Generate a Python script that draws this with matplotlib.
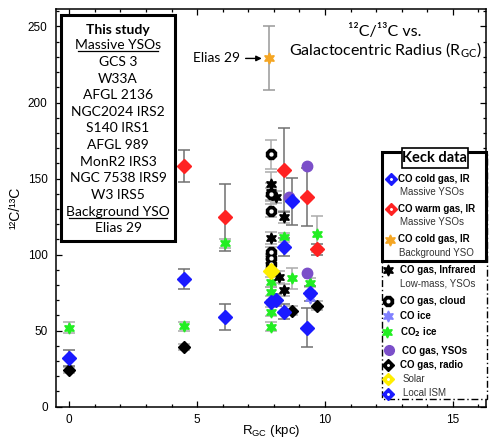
import matplotlib
matplotlib.use("Agg")
import matplotlib.pyplot as plt
from matplotlib.patches import Rectangle
from matplotlib.ticker import MultipleLocator

plt.rcParams['mathtext.fontset'] = 'custom'
plt.rcParams['mathtext.rm'] = 'Lato'
plt.rcParams['mathtext.sf'] = 'Liberation Sans'

# ---- data: galactocentric radius (kpc), 12C/13C ratio, 1-sigma error ----
# Keck, CO cold gas, IR (massive YSOs)
cold_r = [0.0, 4.5, 6.1, 8.1, 8.4, 8.4, 8.7, 9.3, 9.4]
cold_v = [32, 84, 59, 70, 105, 62.5, 135, 52, 74.5]
cold_e = [5, 6.5, 8.5, 4, 6, 5, 15.5, 13, 5]
# Keck, CO warm gas, IR (massive YSOs)
warm_r = [4.5, 6.1, 8.4, 9.3, 9.7]
warm_v = [158, 124.5, 155.5, 138, 103.5]
warm_e = [10.5, 22, 27.5, 19, 3.5]
# Keck, CO cold gas, IR (background YSO, Elias 29)
bg_r = [7.8]
bg_v = [229]
bg_e = [21]
# literature
lowmass_r = [7.9, 8.1, 8.4, 7.9, 8.2, 8.4, 7.9]
lowmass_v = [146.5, 138, 125, 111, 85.5, 77, 141]
lowmass_e = [8, 4, 4, 4, 4, 4, 6]
cloud_r = [7.9, 7.9, 7.9, 7.9, 7.9, 7.9]
cloud_v = [166, 140, 129, 102, 97.5, 94]
cloud_e = [9.5, 4, 4, 3, 3, 3]
coice_r = [7.9, 9.4, 9.4]
coice_v = [69, 71.5, 75]
co2_r = [0.0, 4.5, 6.1, 7.9, 7.9, 7.9, 7.9, 8.4, 8.7, 9.4, 9.7]
co2_v = [52, 53, 107.5, 82, 75.5, 62.5, 52.5, 111.5, 84.5, 81.5, 113.5]
co2_e = [3.5, 3, 3, 3, 3, 3, 3, 3, 7, 3, 12]
ysos_r = [9.3, 8.6, 9.3]
ysos_v = [158.5, 138, 88]
radio_r = [0.0, 4.5, 8.7, 9.7]
radio_v = [24, 39.5, 63, 66.5]
radio_e = [2, 2, 3, 3]
solar_r = [7.9]
solar_v = [89]
ism_r = [7.9]
ism_v = [69]

this_study = ['GCS 3', 'W33A', 'AFGL 2136', 'NGC2024 IRS2', 'S140 IRS1',
              'AFGL 989', 'MonR2 IRS3', 'NGC 7538 IRS9', 'W3 IRS5']

BLUE = '#1a1aff'
RED = '#ff2222'
ORANGE = '#f5a623'
GREEN = '#22ee22'
ICE = '#8080ff'
PURPLE = '#7b4fc9'
YELLOW = '#ffee00'
DGREY = '#707070'
LGREY = '#ababab'
STAR6 = (6, 1, 0)

fig = plt.figure(figsize=(4.9, 4.38), dpi=100)
ax = fig.add_axes([56 / 490, 1 - 406.7 / 438, (486 - 56) / 490, (406.7 - 9) / 438])

# error bars (literature in light grey, Keck in dark grey)
eb = dict(fmt='none', capsize=4.3, elinewidth=1.1, capthick=1.1)
ax.errorbar(lowmass_r, lowmass_v, yerr=lowmass_e, ecolor=LGREY, zorder=2, **eb)
ax.errorbar(cloud_r, cloud_v, yerr=cloud_e, ecolor=LGREY, zorder=2, **eb)
ax.errorbar(co2_r, co2_v, yerr=co2_e, ecolor=LGREY, zorder=2, **eb)
ax.errorbar(radio_r, radio_v, yerr=radio_e, ecolor=LGREY, zorder=2, **eb)
ax.errorbar(cold_r, cold_v, yerr=cold_e, ecolor=DGREY, zorder=2, **eb)
ax.errorbar(warm_r, warm_v, yerr=warm_e, ecolor=DGREY, zorder=2, **eb)
ax.errorbar(bg_r, bg_v, yerr=bg_e, ecolor='#999999', zorder=2, **eb)

# markers
ax.plot(co2_r, co2_v, ls='none', marker=STAR6, ms=8, color=GREEN, mec=GREEN, zorder=3)
ax.plot(coice_r, coice_v, ls='none', marker=STAR6, ms=8, color=ICE, mec=ICE, zorder=3)
ax.plot(lowmass_r, lowmass_v, ls='none', marker=STAR6, ms=8, color='black', zorder=3)
ax.plot(cloud_r, cloud_v, ls='none', marker='8', ms=8, mfc='black', mec='black', zorder=3)
ax.plot(cloud_r, cloud_v, ls='none', marker='8', ms=2.2, mfc='white', mec='white', zorder=3)
ax.plot(radio_r, radio_v, ls='none', marker='D', ms=6, color='black', zorder=3)
ax.plot(ysos_r, ysos_v, ls='none', marker='o', ms=7.5, color=PURPLE, zorder=3)
ax.plot(solar_r, solar_v, ls='none', marker='D', ms=8, color=YELLOW, zorder=3)
ax.plot(ism_r, ism_v, ls='none', marker='D', ms=7, color=BLUE, zorder=3)
ax.plot(cold_r, cold_v, ls='none', marker='D', ms=7, color=BLUE, zorder=3)
ax.plot(warm_r, warm_v, ls='none', marker='D', ms=7, color=RED, zorder=3)
ax.plot(bg_r, bg_v, ls='none', marker=STAR6, ms=8, color=ORANGE, mec=ORANGE, zorder=3)

ax.annotate('Elias 29', xy=(bg_r[0] - 0.27, bg_v[0]), xytext=(bg_r[0] - 1.12, bg_v[0]),
            ha='right', va='center', fontsize=10, family='Lato',
            arrowprops=dict(arrowstyle='-|>', color='black', lw=1, mutation_scale=8,
                            shrinkA=2, shrinkB=0))

ax.set_xlim(-0.52, 16.3)
ax.set_ylim(0, 261.5)
ax.xaxis.set_major_locator(MultipleLocator(5))
ax.xaxis.set_minor_locator(MultipleLocator(1))
ax.yaxis.set_major_locator(MultipleLocator(50))
ax.yaxis.set_minor_locator(MultipleLocator(10))
ax.tick_params(which='both', direction='in', top=True, right=True, width=0.9)
ax.tick_params(which='major', length=4.5)
ax.tick_params(which='minor', length=2.5)
ax.tick_params(axis='y', pad=6)
ax.tick_params(axis='x', pad=5)
for lab in ax.get_xticklabels() + ax.get_yticklabels():
    lab.set_family('Liberation Sans')
    lab.set_fontsize(8.5)
for sp in ax.spines.values():
    sp.set_linewidth(1.1)

ax.set_xlabel(r'$\mathsf{R_{GC}}$ (kpc)', family='Liberation Sans', fontsize=9.5)
ax.xaxis.set_label_coords(0.5, -0.04)
ax.set_ylabel('¹²C/¹³C', family='Liberation Sans', fontsize=10, labelpad=4)

# overlay in pixel coordinates for the boxes and the key
ov = fig.add_axes([0, 0, 1, 1])
ov.set_xlim(0, 490)
ov.set_ylim(438, 0)
ov.axis('off')

ov.text(385, 31.5, '¹²C/¹³C vs.', ha='center', va='center', family='Lato', fontsize=11.5)
ov.text(385.5, 50.5, r'Galactocentric Radius (R$_{\mathrm{GC}}$)', ha='center', va='center',
        family='Lato', fontsize=11.5)

# "This study" box
ov.add_patch(Rectangle((60.5, 15), 114.5, 226, fc='white', ec='black', lw=2.2, zorder=5))
cx = 118
ov.text(cx, 29.5, 'This study', ha='center', va='center', family='Lato',
        fontweight='bold', fontsize=10, zorder=6)
ov.text(cx, 45, 'Massive YSOs', ha='center', va='center', family='Lato', fontsize=10, zorder=6)
ov.plot([78, 157.5], [51, 51], color='black', lw=0.9, zorder=6)
for i, name in enumerate(this_study):
    ov.text(cx, 62 + i * 16.6, name, ha='center', va='center', family='Lato',
            fontsize=10, zorder=6)
ov.text(cx, 211.5, 'Background YSO', ha='center', va='center', family='Lato', fontsize=10, zorder=6)
ov.plot([69, 166.5], [217.5, 217.5], color='black', lw=0.9, zorder=6)
ov.text(cx, 228.5, 'Elias 29', ha='center', va='center', family='Lato', fontsize=10, zorder=6)

# literature key (dash-dot box)
ov.add_patch(Rectangle((381.5, 152), 105, 247, fc='white', ec='black', lw=1.0,
                       ls=(0, (5, 2, 1, 2)), zorder=5))
# Keck key
ov.add_patch(Rectangle((381.5, 151.5), 104.5, 109, fc='white', ec='black', lw=2.2, zorder=6))
ov.add_patch(Rectangle((401.5, 148), 66.5, 20, fc='white', ec='black', lw=1.2, zorder=7))
ov.text(434.7, 158, 'Keck data', ha='center', va='center', family='Lato',
        fontweight='bold', fontsize=10.5, zorder=8)

bold = dict(family='Liberation Sans', fontweight='bold', fontsize=7, va='center', zorder=8)
plain = dict(family='Liberation Sans', fontsize=7, va='center', color='#333333', zorder=8)


def key_marker(x, y, color, marker, ms, dot=False):
    ov.plot([x], [y], ls='none', marker=marker, ms=ms, color=color, mec=color, zorder=8)
    if dot:
        ov.plot([x], [y], ls='none', marker='o', ms=1.1, color='white', mec='white', zorder=9)


key_marker(390.5, 178.5, BLUE, 'D', 6, dot=True)
ov.text(398, 178.5, 'CO cold gas, IR', **bold)
ov.text(400, 192, 'Massive YSOs', **plain)
key_marker(390.5, 209, RED, 'D', 6, dot=True)
ov.text(398, 209, 'CO warm gas, IR', **bold)
ov.text(400, 222, 'Massive YSOs', **plain)
key_marker(389.5, 239.5, ORANGE, STAR6, 8)
ov.text(398, 239.5, 'CO cold gas, IR', **bold)
ov.text(399, 253.5, 'Background YSO', **plain)

key_marker(387.5, 270, 'black', STAR6, 8)
ov.text(400, 270, 'CO gas, Infrared', **bold)
ov.text(400, 284, 'Low-mass, YSOs', **plain)
key_marker(388, 301, 'black', '8', 7.5)
ov.plot([388], [301], ls='none', marker='8', ms=2, color='white', mec='white', zorder=9)
ov.text(400, 301, 'CO gas, cloud', **bold)
key_marker(388, 316, ICE, STAR6, 8)
ov.text(400, 316, 'CO ice', **bold)
key_marker(387, 332, GREEN, STAR6, 8)
ov.text(400, 332.5, 'CO$_{\\mathbf{2}}$ ice', **bold)
key_marker(388.5, 350, PURPLE, 'o', 7)
ov.text(402, 351, 'CO gas, YSOs', **bold)
key_marker(388, 365, 'black', 'D', 6, dot=True)
ov.text(400, 365, 'CO gas, radio', **bold)
key_marker(387.5, 378.5, YELLOW, 'D', 6, dot=True)
ov.text(403, 378.5, 'Solar', **plain)
key_marker(388, 393.5, BLUE, 'D', 6, dot=True)
ov.text(403, 393.5, 'Local ISM', **plain)

fig.savefig('out.png', dpi=100)
